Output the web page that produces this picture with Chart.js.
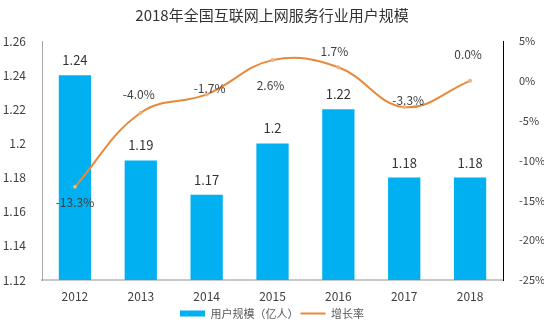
<!DOCTYPE html>
<html>
<head>
<meta charset="utf-8">
<script src="https://cdn.jsdelivr.net/npm/chart.js@4/dist/chart.umd.min.js"></script>
<style>
  html, body { margin: 0; padding: 0; background: #fff; }
  #wrap { width: 544px; height: 323px; }
</style>
</head>
<body>
<div id="wrap"><canvas id="chart"></canvas></div>
<script>
const years = ['2012', '2013', '2014', '2015', '2016', '2017', '2018'];
const users = [1.24, 1.19, 1.17, 1.2, 1.22, 1.18, 1.18];   // 亿人
const growth = [-13.3, -4.0, -1.7, 2.6, 1.7, -3.3, 0.0];   // %
const leftTicks = [1.12, 1.26, 0.02];
const rightTicks = [-25, 5, 5];

const FONT = '"Noto Sans CJK SC", "Microsoft YaHei", sans-serif';

// label offsets for the growth line (like the hand-placed labels in the original)
const lineLabelShift = [[0, 16], [-2, -18], [3, -6], [-2, 25], [-4, -16], [4, -7], [-2, -26]];

const valueLabels = {
  id: 'valueLabels',
  afterDatasetsDraw(chart) {
    const ctx = chart.ctx;
    ctx.save();
    ctx.textAlign = 'center';
    ctx.textBaseline = 'middle';
    chart.getDatasetMeta(0).data.forEach((bar, i) => {
      ctx.font = '13px ' + FONT;
      ctx.fillStyle = '#333';
      ctx.fillText(String(users[i]), bar.x, bar.y - 15);
    });
    chart.getDatasetMeta(1).data.forEach((pt, i) => {
      ctx.font = '12px ' + FONT;
      ctx.fillStyle = '#404040';
      const s = lineLabelShift[i];
      ctx.fillText(growth[i].toFixed(1) + '%', pt.x + s[0], pt.y + s[1]);
    });
    ctx.restore();
  }
};

new Chart(document.getElementById('chart'), {
  data: {
    labels: years,
    datasets: [
      {
        type: 'bar',
        label: '用户规模（亿人）',
        data: users,
        backgroundColor: '#00B0F0',
        barPercentage: 0.49,
        categoryPercentage: 1,
        yAxisID: 'y',
        order: 1
      },
      {
        type: 'line',
        label: '增长率',
        data: growth,
        borderColor: '#E8893A',
        backgroundColor: '#E8893A',
        borderWidth: 2,
        pointRadius: 2,
        pointBackgroundColor: '#F2B27C',
        pointBorderWidth: 0,
        tension: 0.4,
        yAxisID: 'y1',
        order: 0
      }
    ]
  },
  options: {
    responsive: true,
    maintainAspectRatio: false,
    animation: false,
    layout: { padding: { left: 0, right: 0, top: 0, bottom: 0 } },
    plugins: {
      title: {
        display: true,
        text: '2018年全国互联网上网服务行业用户规模',
        color: '#333',
        font: { family: FONT, size: 15, weight: 'normal' },
        padding: { top: 6, bottom: 17 }
      },
      legend: {
        position: 'bottom',
        maxHeight: 17,
        labels: {
          color: '#595959',
          font: { family: FONT, size: 11 },
          usePointStyle: true,
          pointStyleWidth: 25,
          boxHeight: 6,
          padding: 2,
          sort: (a, b) => a.datasetIndex - b.datasetIndex,
          generateLabels(chart) {
            const items = Chart.defaults.plugins.legend.labels.generateLabels(chart);
            items.forEach(it => {
              if (it.datasetIndex === 0) {
                it.pointStyle = 'rect';
              } else {
                it.pointStyle = 'line';
                it.lineWidth = 2;
                it.strokeStyle = '#E8893A';
              }
            });
            return items;
          }
        }
      },
      tooltip: { enabled: false }
    },
    scales: {
      x: {
        grid: { display: false, drawTicks: false },
        border: { display: true, color: '#c8c8c8', width: 2 },
        ticks: { color: '#404040', font: { family: FONT, size: 12 }, padding: 9 },
        afterFit(scale) { scale.height = 26; }
      },
      y: {
        position: 'left',
        min: leftTicks[0],
        max: leftTicks[1],
        grid: { display: false },
        border: { display: true, color: '#a6a6a6', width: 1 },
        ticks: {
          stepSize: leftTicks[2],
          color: '#404040',
          font: { family: FONT, size: 12 },
          padding: 8,
          callback: v => String(Number(v.toFixed(2)))
        },
        afterFit(scale) { scale.width = 42; }
      },
      y1: {
        position: 'right',
        min: rightTicks[0],
        max: rightTicks[1],
        grid: { display: false },
        border: { display: true, color: '#000', width: 1 },
        ticks: {
          stepSize: rightTicks[2],
          color: '#404040',
          font: { family: FONT, size: 11 },
          padding: 8,
          callback: v => v + '%'
        },
        afterFit(scale) { scale.width = 41; }
      }
    }
  },
  plugins: [valueLabels]
});
</script>
</body>
</html>
